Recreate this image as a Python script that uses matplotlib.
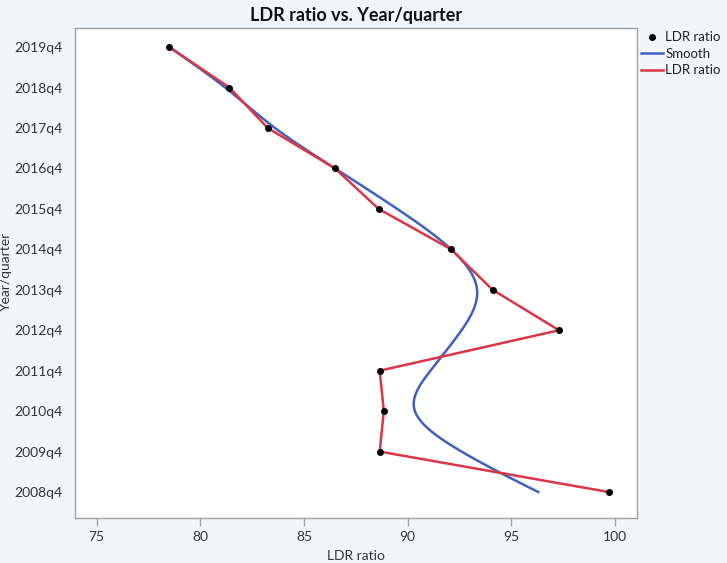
import numpy as np
import matplotlib
matplotlib.use("Agg")
import matplotlib.pyplot as plt
from matplotlib.lines import Line2D

# Dados
trimestres = ["2008q4", "2009q4", "2010q4", "2011q4", "2012q4", "2013q4",
              "2014q4", "2015q4", "2016q4", "2017q4", "2018q4", "2019q4"]
ldr = [99.7, 88.65, 88.85, 88.65, 97.3, 94.1, 92.1, 88.6, 86.5, 83.25, 81.4, 78.5]
# curva suavizada (valores lidos em cada trimestre)
suave = [96.3, 92.6, 90.35, 91.1, 92.6, 93.35, 92.1, 89.5, 86.5, 83.6, 81.2, 78.5]
xticks = [75, 80, 85, 90, 95, 100]


def spline_natural(t, v, n=30):
    # spline cubica natural, so para desenhar a linha suave
    t = np.asarray(t, float)
    v = np.asarray(v, float)
    k = len(t)
    h = np.diff(t)
    A = np.zeros((k, k))
    b = np.zeros(k)
    A[0, 0] = A[-1, -1] = 1
    for i in range(1, k - 1):
        A[i, i - 1] = h[i - 1]
        A[i, i] = 2 * (h[i - 1] + h[i])
        A[i, i + 1] = h[i]
        b[i] = 6 * ((v[i + 1] - v[i]) / h[i] - (v[i] - v[i - 1]) / h[i - 1])
    M = np.linalg.solve(A, b)
    ts, vs = [], []
    for i in range(k - 1):
        s = np.linspace(t[i], t[i + 1], n)
        a = (t[i + 1] - s) / h[i]
        c = (s - t[i]) / h[i]
        vv = (a * v[i] + c * v[i + 1]
              + ((a ** 3 - a) * M[i] + (c ** 3 - c) * M[i + 1]) * h[i] ** 2 / 6)
        ts.append(s)
        vs.append(vv)
    return np.concatenate(ts), np.concatenate(vs)


plt.rcParams['font.family'] = ['Lato', 'DejaVu Sans']

fig = plt.figure(figsize=(7.27, 5.63), dpi=100)
fig.patch.set_facecolor("#f3f6f8")
ax = fig.add_axes([0.1032, 0.0808, 0.7728, 0.8692])
ax.set_facecolor("white")

pos = np.arange(len(trimestres))
ys, xs = spline_natural(pos, suave)

azul = "#4060c0"
vermelho = "#dc3545"

ax.plot(xs, ys, color=azul, linewidth=1.8, zorder=2)
ax.plot(ldr, pos, color=vermelho, linewidth=1.8, zorder=3)
ax.scatter(ldr, pos, color="black", s=16, zorder=4)

ax.set_xlim(73.95, 101.06)
ax.set_ylim(-0.63, 11.47)
ax.set_xticks(xticks)
ax.set_xticklabels([str(v) for v in xticks])
ax.set_yticks(pos)
ax.set_yticklabels(trimestres)

for s in ax.spines.values():
    s.set_color("#a0a0a0")
    s.set_linewidth(1.0)
ax.tick_params(axis="x", colors="#a0a0a0", length=6, width=1, labelcolor="#333333",
               labelsize=10, pad=4)
ax.tick_params(axis="y", length=0, labelcolor="#333333", labelsize=10, pad=9)

ax.set_xlabel("LDR ratio", fontsize=10, color="#333333", labelpad=5)
ax.set_ylabel("Year/quarter", fontsize=10, color="#333333")
ax.yaxis.set_label_coords(-0.112, 0.5)
ax.set_title("LDR ratio vs. Year/quarter", fontsize=13, fontweight="bold",
             color="#111111", pad=5)

handles = [
    Line2D([], [], color="black", marker="o", markersize=4, linestyle="None", label="LDR ratio"),
    Line2D([], [], color=azul, linewidth=1.8, label="Smooth"),
    Line2D([], [], color=vermelho, linewidth=1.8, label="LDR ratio"),
]
leg = fig.legend(handles=handles, loc="upper left", bbox_to_anchor=(0.875, 0.954),
                 frameon=False, fontsize=9.5, handlelength=1.6, handletextpad=0.2,
                 labelspacing=0.35, borderaxespad=0)
for t in leg.get_texts():
    t.set_color("#222222")

fig.savefig("out.png", dpi=100, facecolor=fig.get_facecolor())
